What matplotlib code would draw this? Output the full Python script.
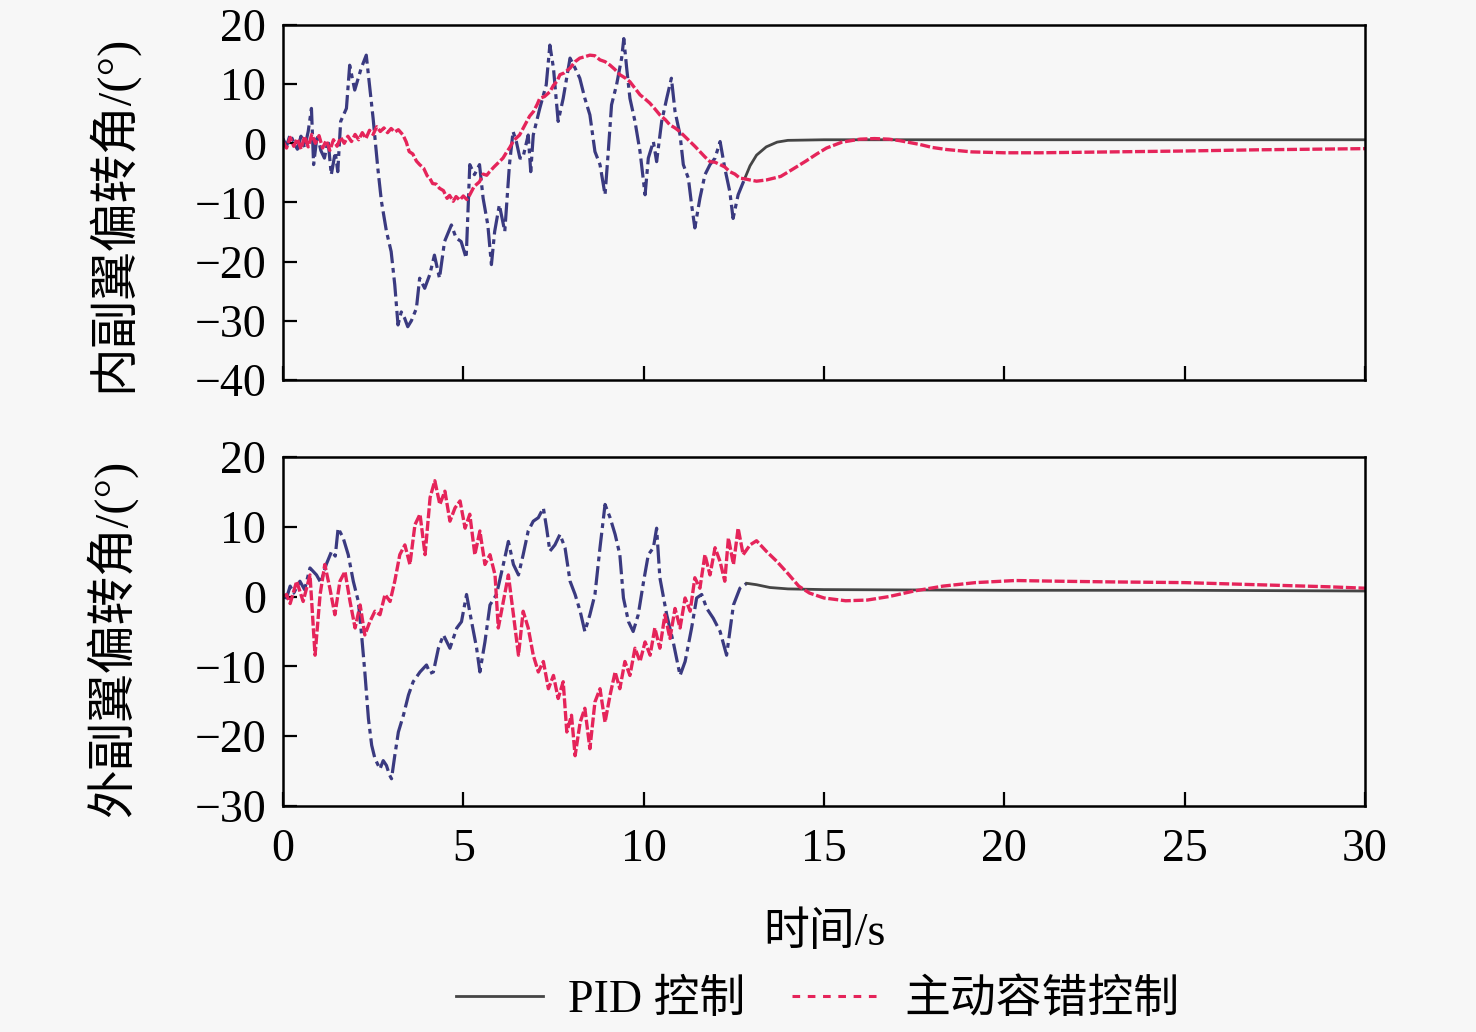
import numpy as np
import matplotlib
matplotlib.use('Agg')
import matplotlib.pyplot as plt
from matplotlib.lines import Line2D

plt.rcParams['font.family'] = ['Liberation Serif', 'Noto Sans CJK SC', 'DejaVu Sans']
plt.rcParams['axes.unicode_minus'] = True

# ---- datos ----
# panel superior: PID
t_in_pid = [0.0, 0.1, 0.2, 0.3, 0.4, 0.5, 0.6, 0.7, 0.79, 0.85, 0.95, 1.05, 1.15, 1.25, 1.34, 1.45,
            1.52, 1.6, 1.76, 1.85, 1.99, 2.17, 2.31, 2.42, 2.5, 2.63, 2.73, 2.87, 3.0, 3.1, 3.19,
            3.28, 3.37, 3.46, 3.56, 3.7, 3.79, 3.93, 4.07, 4.2, 4.34, 4.48, 4.67, 4.8, 4.94, 5.08,
            5.18, 5.31, 5.45, 5.55, 5.68, 5.78, 5.87, 6.0, 6.15, 6.28, 6.38, 6.47, 6.57, 6.65, 6.8,
            6.87, 6.94, 7.12, 7.3, 7.4, 7.5, 7.63, 7.77, 7.96, 8.1, 8.23, 8.37, 8.51, 8.65, 8.79,
            8.93, 9.02, 9.11, 9.25, 9.39, 9.45, 9.53, 9.62, 9.76, 9.9, 10.04, 10.13, 10.27, 10.36,
            10.5, 10.64, 10.77, 10.87, 11.01, 11.1, 11.24, 11.33, 11.42, 11.56, 11.7, 11.84, 11.98,
            12.12, 12.25, 12.39, 12.48, 12.62, 12.8, 12.95, 13.13, 13.4, 13.7, 14.0, 15.0, 20.0,
            25.0, 30.0]
y_in_pid = [0.8, -0.5, 1.5, 0.2, -1.0, 1.2, -0.8, 2.0, 5.9, -3.6, 1.5, -1.2, -2.5, 0.5, -5.3, -1.5,
            -4.8, 3.7, 5.9, 13.2, 9.0, 12.7, 14.9, 8.7, 4.2, -4.2, -9.8, -14.9, -18.3, -23.9, -30.7,
            -28.5, -29.5, -31.0, -30.0, -27.9, -22.8, -24.5, -22.2, -18.9, -22.8, -16.6, -13.8, -16.0,
            -16.6, -19.4, -3.6, -5.3, -3.6, -9.3, -13.8, -20.5, -14.9, -10.4, -14.9, -3.6, 2.0, 0.3,
            -2.5, -2.5, 1.4, -4.8, 1.4, 5.9, 9.9, 16.6, 12.7, 3.7, 7.6, 14.4, 12.7, 11.0, 7.6, 4.8,
            -1.4, -3.6, -8.7, -1.4, 6.5, 9.9, 14.4, 17.7, 12.7, 7.6, 3.7, -1.4, -8.7, -2.5, 0.3, -3.1,
            3.7, 7.6, 11.0, 5.4, 1.4, -3.6, -5.9, -10.4, -14.3, -9.3, -5.3, -3.6, -2.5, 0.3, -4.2,
            -8.2, -12.7, -8.7, -6.0, -3.8, -2.0, -0.6, 0.2, 0.5, 0.6, 0.6, 0.6, 0.6]

# panel superior: control tolerante a fallos
t_in_ftc = [0.0, 0.1, 0.2, 0.3, 0.4, 0.5, 0.6, 0.7, 0.8, 0.9, 1.0, 1.1, 1.2, 1.3, 1.4, 1.5, 1.6, 1.7,
            1.8, 1.9, 2.0, 2.1, 2.2, 2.3, 2.4, 2.5, 2.6, 2.7, 2.8, 2.9, 3.0, 3.1, 3.2, 3.33, 3.42,
            3.5, 3.6, 3.7, 3.79, 3.9, 4.0, 4.07, 4.15, 4.25, 4.34, 4.45, 4.55, 4.62, 4.72, 4.8, 4.9,
            5.0, 5.1, 5.18, 5.3, 5.45, 5.55, 5.65, 5.73, 5.85, 6.0, 6.1, 6.2, 6.28, 6.4, 6.56, 6.7,
            6.84, 6.95, 7.05, 7.12, 7.25, 7.4, 7.5, 7.6, 7.68, 7.8, 7.96, 8.1, 8.23, 8.35, 8.51,
            8.65, 8.79, 8.93, 9.07, 9.2, 9.34, 9.5, 9.62, 9.76, 9.9, 10.04, 10.17, 10.3, 10.45,
            10.6, 10.73, 10.87, 11.0, 11.15, 11.28, 11.42, 11.56, 11.7, 11.84, 11.98, 12.12, 12.25,
            12.39, 12.53, 12.67, 12.8, 12.95, 13.13, 13.4, 13.8, 14.1, 14.5, 14.8, 15.07, 15.5,
            16.0, 16.4, 16.8, 17.1, 17.66, 18.0, 18.4, 19.1, 20.0, 21.0, 23.0, 25.0, 27.0, 30.0]
y_in_ftc = [0.3, -0.8, 1.0, -0.5, 0.8, -1.0, 1.2, -0.6, 1.5, 0.0, 1.3, -0.8, 0.5, -1.2, 0.6, -0.5,
            1.0, 0.0, 1.2, 0.3, 1.5, 0.6, 1.8, 0.8, 2.2, 1.5, 2.8, 2.0, 2.6, 1.8, 2.5, 1.9, 2.3, 1.4,
            0.2, -1.4, -1.8, -3.0, -3.6, -4.2, -5.5, -5.9, -6.8, -6.9, -7.6, -8.0, -9.3, -8.8, -9.8,
            -9.0, -9.6, -8.9, -9.5, -8.7, -7.3, -6.5, -5.2, -5.4, -4.8, -4.0, -3.1, -2.5, -1.5, -0.8,
            0.5, 1.4, 3.0, 4.6, 5.4, 6.6, 7.6, 7.9, 8.7, 9.8, 10.5, 11.6, 11.9, 12.7, 13.8, 14.4,
            14.6, 14.9, 14.8, 14.1, 13.8, 13.2, 12.5, 11.6, 11.0, 10.4, 9.3, 8.2, 7.5, 6.8, 5.9, 4.8,
            4.0, 3.1, 2.6, 2.0, 1.1, 0.3, -0.5, -1.4, -2.3, -3.1, -3.2, -3.6, -4.0, -4.8, -5.2, -5.9,
            -6.0, -6.2, -6.4, -6.2, -5.6, -4.5, -3.0, -1.8, -0.8, 0.2, 0.7, 0.8, 0.7, 0.45, -0.2,
            -0.7, -1.05, -1.45, -1.6, -1.6, -1.45, -1.3, -1.1, -0.9]

# panel inferior: PID
t_out_pid = [0.0, 0.1, 0.2, 0.3, 0.47, 0.6, 0.75, 0.93, 1.05, 1.2, 1.35, 1.45, 1.53, 1.67, 1.81,
             1.95, 2.09, 2.18, 2.27, 2.37, 2.46, 2.55, 2.69, 2.78, 2.87, 2.95, 3.01, 3.1, 3.2, 3.34,
             3.48, 3.61, 3.8, 3.98, 4.08, 4.17, 4.31, 4.45, 4.63, 4.82, 4.95, 5.09, 5.23, 5.37,
             5.46, 5.6, 5.74, 5.92, 6.11, 6.25, 6.39, 6.53, 6.66, 6.8, 6.94, 7.08, 7.22, 7.31, 7.4,
             7.54, 7.68, 7.82, 7.96, 8.1, 8.24, 8.37, 8.51, 8.65, 8.79, 8.93, 9.07, 9.21, 9.34, 9.44,
             9.58, 9.71, 9.85, 10.0, 10.13, 10.27, 10.36, 10.45, 10.64, 10.82, 11.01, 11.15, 11.33,
             11.47, 11.61, 11.75, 11.93, 12.12, 12.3, 12.39, 12.49, 12.67, 12.86, 13.13, 13.5, 14.0,
             15.0, 20.0, 25.0, 30.0]
y_out_pid = [0.0, -0.2, 1.5, 0.5, 2.2, 1.0, 4.1, 3.1, 2.0, 4.6, 6.5, 5.8, 9.8, 8.4, 6.0, 2.2, -0.7,
             -5.5, -10.8, -17.5, -21.3, -23.2, -24.7, -23.5, -24.2, -25.5, -26.1, -22.8, -19.4,
             -17.0, -14.1, -12.2, -10.8, -9.8, -11.0, -10.8, -7.4, -5.5, -7.4, -4.5, -3.6, 0.3, -3.6,
             -7.4, -10.8, -6.5, -1.2, 0.3, 4.6, 7.9, 4.6, 3.1, 6.0, 9.4, 10.8, 11.3, 12.7, 9.8, 6.5,
             7.4, 8.9, 7.0, 2.2, 0.3, -2.1, -5.0, -2.6, 0.3, 7.0, 13.2, 11.3, 8.9, 6.0, -0.2, -3.6,
             -5.0, -2.6, 2.2, 6.0, 7.0, 9.8, 2.7, -2.6, -6.5, -11.3, -9.3, -4.5, -0.2, 0.3, -1.7,
             -3.1, -5.0, -8.4, -5.0, -1.2, 1.2, 1.9, 1.7, 1.3, 1.1, 1.0, 0.9, 0.9, 0.8]

# panel inferior: control tolerante a fallos
t_out_ftc = [0.0, 0.1, 0.2, 0.38, 0.56, 0.75, 0.89, 1.03, 1.16, 1.3, 1.44, 1.58, 1.72, 1.86, 2.0,
             2.14, 2.27, 2.41, 2.55, 2.69, 2.83, 2.97, 3.1, 3.24, 3.38, 3.52, 3.66, 3.8, 3.94, 4.08,
             4.21, 4.35, 4.49, 4.63, 4.77, 4.91, 5.05, 5.18, 5.32, 5.46, 5.6, 5.74, 5.88, 5.97, 6.11,
             6.25, 6.39, 6.53, 6.66, 6.8, 6.94, 7.08, 7.22, 7.36, 7.5, 7.63, 7.77, 7.87, 8.0, 8.1,
             8.24, 8.37, 8.51, 8.65, 8.79, 8.93, 9.07, 9.21, 9.34, 9.48, 9.62, 9.76, 9.9, 10.04,
             10.18, 10.31, 10.45, 10.59, 10.73, 10.87, 11.01, 11.15, 11.29, 11.42, 11.56, 11.7,
             11.84, 11.98, 12.12, 12.25, 12.35, 12.49, 12.62, 12.76, 12.95, 13.13, 13.4, 13.7, 14.0,
             14.3, 14.6, 15.0, 15.6, 16.2, 16.8, 17.5, 18.3, 19.2, 20.3, 21.5, 23.0, 25.0, 27.0,
             29.0, 30.0]
y_out_ftc = [0.0, 0.3, -1.0, 2.2, -0.7, 3.1, -8.4, 0.3, 4.6, 1.2, -2.6, 2.2, 3.6, -0.7, -4.5, -1.2,
             -5.5, -3.6, -2.1, -2.6, 0.3, -0.7, 2.2, 6.0, 7.4, 4.6, 10.3, 11.8, 6.0, 14.2, 16.6,
             13.2, 15.1, 10.8, 12.7, 13.7, 9.8, 11.8, 6.0, 9.4, 4.6, 6.0, 3.1, -4.5, -0.7, 3.1, -2.6,
             -8.4, -2.1, -4.5, -8.4, -10.8, -9.3, -13.2, -11.3, -14.6, -12.2, -19.4, -17.0, -22.8,
             -18.0, -16.0, -21.8, -15.1, -13.2, -18.0, -14.1, -10.8, -13.2, -9.3, -11.3, -7.4, -9.3,
             -6.5, -8.4, -4.5, -7.4, -2.6, -6.0, -1.7, -4.5, -0.2, -2.1, 2.7, 1.2, 6.0, 3.1, 7.0,
             5.0, 2.2, 8.4, 4.6, 9.8, 6.0, 7.4, 8.0, 6.5, 5.0, 3.3, 1.5, 0.5, -0.2, -0.6, -0.5, 0.0,
             0.8, 1.5, 2.0, 2.3, 2.2, 2.1, 2.0, 1.7, 1.4, 1.2]

x_ticks = [0, 5, 10, 15, 20, 25, 30]
y_ticks_in = [-40, -30, -20, -10, 0, 10, 20]
y_ticks_out = [-30, -20, -10, 0, 10, 20]

c_pid_ruido = '#3a3a80'
c_pid = '#454545'
c_ftc = '#e5245a'
fondo = '#f7f7f7'
fs = 33

fig = plt.figure(figsize=(14.76, 10.32), dpi=100, facecolor=fondo)
ax1 = fig.add_axes([0.1917, 0.6318, 0.7331, 0.344])
ax2 = fig.add_axes([0.1917, 0.219, 0.7331, 0.3382])


def dibujar(ax, t_pid, y_pid, t_ftc, y_ftc):
    t_pid = np.array(t_pid)
    y_pid = np.array(y_pid)
    ruido = t_pid <= 12.9
    ax.plot(t_pid[ruido], y_pid[ruido], color=c_pid_ruido, lw=2.3,
            linestyle=(0, (6, 1.5, 1.5, 1.5)))
    cola = t_pid >= t_pid[ruido][-1]
    ax.plot(t_pid[cola], y_pid[cola], color=c_pid, lw=2.0)
    ax.plot(t_ftc, y_ftc, color=c_ftc, lw=2.4, linestyle=(0, (3, 0.8)))
    ax.set_facecolor(fondo)
    ax.set_xlim(0, 30)
    ax.set_xticks(x_ticks)
    ax.tick_params(direction='in', length=10, width=1.6, labelsize=fs, pad=12,
                   top=False, right=False)
    for s in ax.spines.values():
        s.set_linewidth(1.8)


dibujar(ax1, t_in_pid, y_in_pid, t_in_ftc, y_in_ftc)
dibujar(ax2, t_out_pid, y_out_pid, t_out_ftc, y_out_ftc)

ax1.set_ylim(-40, 20)
ax1.set_yticks(y_ticks_in)
ax1.tick_params(axis='x', labelbottom=False)
ax2.set_ylim(-30, 20)
ax2.set_yticks(y_ticks_out)
ax2.tick_params(axis='x', pad=16)

ax1.set_ylabel('内副翼偏转角/(°)', fontsize=35)
ax2.set_ylabel('外副翼偏转角/(°)', fontsize=35)
ax1.yaxis.set_label_coords(-0.135, 0.47)
ax2.yaxis.set_label_coords(-0.135, 0.48)
ax2.set_xlabel('时间/s', fontsize=fs, labelpad=30)

handles = [Line2D([], [], color=c_pid, lw=2.0),
           Line2D([], [], color=c_ftc, lw=2.2, linestyle=(0, (2.5, 2.5)))]
fig.legend(handles, ['PID 控制', '主动容错控制'], loc='center', ncol=2,
           bbox_to_anchor=(0.554, 0.03), frameon=False, fontsize=fs,
           handlelength=1.9, columnspacing=1.0, handletextpad=0.55)

fig.savefig('out.png', dpi=100, facecolor=fondo)
